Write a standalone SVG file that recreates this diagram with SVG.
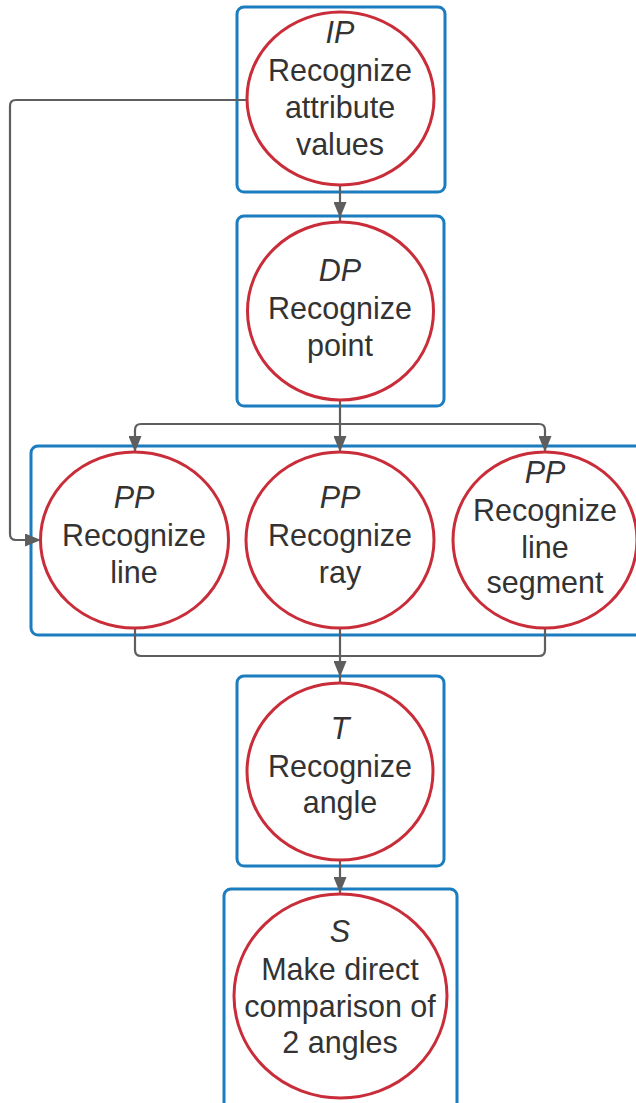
<svg xmlns="http://www.w3.org/2000/svg" width="636" height="1103" viewBox="0 0 636 1103">
  <style>
    .box { fill: #ffffff; stroke: #1b7dc0; stroke-width: 3; }
    .ring { fill: #ffffff; stroke: #c92d39; stroke-width: 3; }
    .lbl { font-family: "Liberation Sans", Arial, sans-serif; font-size: 30.5px; fill: #333333; text-anchor: middle; }
    .tag { font-style: italic; }
    .wire { fill: none; stroke: #5e5e5e; stroke-width: 2.2; }
  </style>
  <defs>
    <marker id="arrow" markerUnits="userSpaceOnUse" markerWidth="16" markerHeight="13" refX="16" refY="6.5" orient="auto">
      <path d="M0,0 L16,6.5 L0,13 z" fill="#5e5e5e"/>
    </marker>
  </defs>
  <rect width="636" height="1103" fill="#ffffff"/>

  <!-- containers first, connectors over them, then the circles -->
  <g id="frames">
    <rect class="box" x="237" y="7" width="208" height="185" rx="7"/>
    <rect class="box" x="237" y="216" width="207" height="190" rx="7"/>
    <rect class="box" x="31" y="446" width="630" height="189" rx="7"/>
    <rect class="box" x="237" y="676" width="207" height="190" rx="7"/>
    <rect class="box" x="224" y="889" width="233" height="230" rx="7"/>
  </g>

  <g id="connectors">
    <!-- IP back to line -->
    <path class="wire" d="M247,100 H16 Q10,100 10,106 V534 Q10,540 16,540 H41" marker-end="url(#arrow)"/>
    <!-- IP to DP -->
    <path class="wire" d="M340,185 V218" marker-end="url(#arrow)"/>
    <path class="wire" d="M340,216 V222"/>
    <!-- DP fan-out -->
    <path class="wire" d="M340,400 V424"/>
    <path class="wire" d="M340,424 H141 Q135,424 135,430 V452" marker-end="url(#arrow)"/>
    <path class="wire" d="M340,424 V452" marker-end="url(#arrow)"/>
    <path class="wire" d="M340,424 H539 Q545,424 545,430 V452" marker-end="url(#arrow)"/>
    <!-- fan-in to angle -->
    <path class="wire" d="M135,628 V650 Q135,656 141,656 H340"/>
    <path class="wire" d="M545,628 V650 Q545,656 539,656 H340"/>
    <path class="wire" d="M340,628 V677" marker-end="url(#arrow)"/>
    <path class="wire" d="M340,676 V683"/>
    <!-- angle to comparison -->
    <path class="wire" d="M340,860 V893" marker-end="url(#arrow)"/>
  </g>

  <g id="node-ip">
    <ellipse class="ring" cx="340.5" cy="98.5" rx="93.5" ry="86.5"/>
    <text class="lbl tag" x="340" y="43">IP</text>
    <text class="lbl" x="340" y="81">Recognize</text>
    <text class="lbl" x="340" y="118">attribute</text>
    <text class="lbl" x="340" y="155">values</text>
  </g>

  <g id="node-dp">
    <ellipse class="ring" cx="340.5" cy="311" rx="93" ry="89"/>
    <text class="lbl tag" x="340" y="281">DP</text>
    <text class="lbl" x="340" y="319">Recognize</text>
    <text class="lbl" x="340" y="356">point</text>
  </g>

  <g id="node-line">
    <ellipse class="ring" cx="134.5" cy="540" rx="94" ry="88"/>
    <text class="lbl tag" x="134" y="508">PP</text>
    <text class="lbl" x="134" y="546">Recognize</text>
    <text class="lbl" x="134" y="583">line</text>
  </g>

  <g id="node-ray">
    <ellipse class="ring" cx="340" cy="540" rx="94" ry="88"/>
    <text class="lbl tag" x="340" y="508">PP</text>
    <text class="lbl" x="340" y="546">Recognize</text>
    <text class="lbl" x="340" y="583">ray</text>
  </g>

  <g id="node-segment">
    <ellipse class="ring" cx="545" cy="540" rx="92" ry="88"/>
    <text class="lbl tag" x="545" y="483">PP</text>
    <text class="lbl" x="545" y="521">Recognize</text>
    <text class="lbl" x="545" y="558">line</text>
    <text class="lbl" x="545" y="593">segment</text>
  </g>

  <g id="node-angle">
    <ellipse class="ring" cx="340" cy="771.5" rx="93" ry="88.5"/>
    <text class="lbl tag" x="340" y="739">T</text>
    <text class="lbl" x="340" y="777">Recognize</text>
    <text class="lbl" x="340" y="813">angle</text>
  </g>

  <g id="node-compare">
    <ellipse class="ring" cx="340.5" cy="996" rx="106.5" ry="102"/>
    <text class="lbl tag" x="340" y="942">S</text>
    <text class="lbl" x="340" y="980">Make direct</text>
    <text class="lbl" x="340" y="1017">comparison of</text>
    <text class="lbl" x="340" y="1053">2 angles</text>
  </g>
</svg>
